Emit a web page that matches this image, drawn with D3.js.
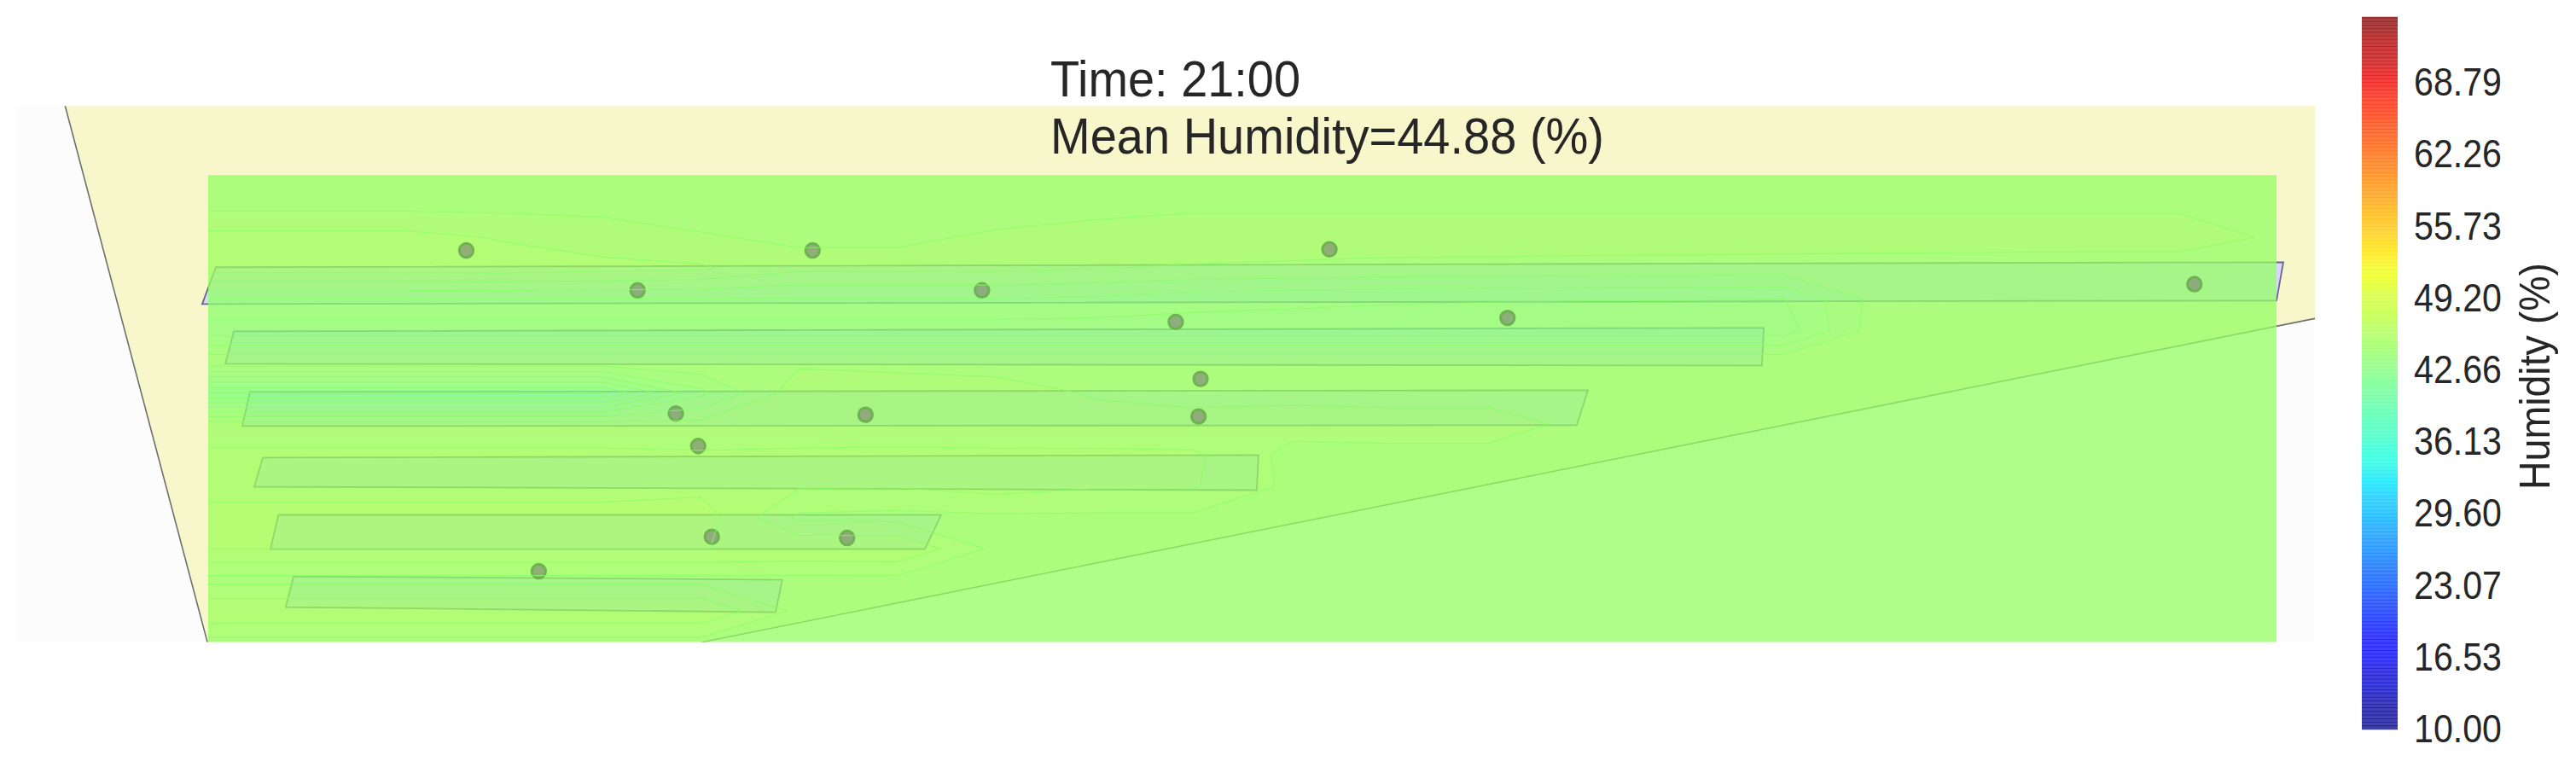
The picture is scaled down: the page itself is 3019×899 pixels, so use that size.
<!DOCTYPE html>
<html>
<head>
<meta charset="utf-8">
<style>
  html, body { margin: 0; padding: 0; background: #fff; }
  text { font-family: "Liberation Sans", sans-serif; fill: #262626; }
</style>
<script src="https://cdn.jsdelivr.net/npm/d3@7"></script>
</head>
<body>
<div id="chart"></div>
<script>
// humidity, 16 rows (top to bottom) of 22 columns
const humidityGrid = [
  [44.46,44.46,44.46,44.46,44.46,44.46,44.46,44.46,44.46,44.46,44.46,44.46,44.46,44.46,44.46,44.46,44.46,44.46,44.46,44.46,44.46,44.46],
  [44.54,44.54,44.54,44.54,44.54,44.54,44.54,44.54,44.54,44.54,44.57,44.57,44.57,44.57,44.57,44.57,44.57,44.57,44.57,44.57,44.57,44.57],
  [45.06,45.06,45.06,44.92,44.78,44.64,44.59,44.59,44.65,44.73,44.81,44.81,44.81,44.81,44.81,44.81,44.81,44.81,44.81,44.81,44.81,44.57],
  [45.11,45.11,45.11,45.13,45.05,45.00,44.69,44.69,44.69,44.63,44.59,44.56,44.52,44.51,44.49,44.48,44.46,44.44,44.43,44.41,44.41,44.36],
  [43.95,43.95,43.95,43.95,43.95,43.95,43.95,43.95,43.95,43.90,43.77,43.72,43.68,43.66,43.65,43.65,43.63,44.46,44.44,44.43,44.41,44.39],
  [43.46,43.46,43.46,43.46,43.46,43.46,43.46,43.46,43.46,43.46,43.46,43.46,43.46,43.46,43.46,43.46,43.46,44.56,44.52,44.52,44.52,44.52],
  [44.56,44.56,44.56,44.56,44.56,44.56,44.56,44.56,44.56,44.56,44.56,44.56,44.56,44.56,44.56,44.56,44.56,44.56,44.54,44.54,44.54,44.54],
  [42.63,42.63,42.63,42.63,42.63,43.87,44.85,44.74,44.69,44.61,44.59,44.54,44.59,44.59,44.57,44.56,44.56,44.56,44.56,44.56,44.56,44.56],
  [44.82,44.82,44.82,44.82,44.82,44.73,44.85,44.79,44.75,44.67,44.66,44.75,44.66,44.66,44.60,44.59,44.59,44.59,44.59,44.59,44.59,44.59],
  [44.99,44.99,44.99,44.99,44.99,44.99,44.98,45.01,45.01,45.03,45.01,44.52,44.60,44.60,44.57,44.56,44.56,44.56,44.56,44.56,44.56,44.56],
  [45.18,45.18,45.18,45.18,45.18,45.18,44.98,44.97,45.08,44.98,44.98,44.55,44.54,44.54,44.54,44.54,44.54,44.54,44.54,44.54,44.54,44.54],
  [45.37,45.37,45.37,45.37,45.37,45.46,44.56,44.52,44.56,44.56,44.56,44.54,44.54,44.54,44.54,44.54,44.54,44.54,44.54,44.54,44.54,44.54],
  [45.28,45.28,45.28,45.28,45.28,45.28,45.24,45.26,44.54,44.52,44.52,44.52,44.52,44.52,44.52,44.52,44.52,44.52,44.52,44.52,44.52,44.52],
  [44.52,44.52,44.52,44.52,44.52,44.52,44.52,44.52,44.52,44.52,44.52,44.52,44.52,44.52,44.52,44.52,44.52,44.52,44.52,44.52,44.52,44.52],
  [45.24,45.24,45.24,45.24,45.24,45.24,44.54,44.52,44.52,44.52,44.52,44.52,44.52,44.52,44.52,44.52,44.52,44.52,44.52,44.52,44.52,44.52],
  [44.52,44.52,44.52,44.52,44.52,44.52,44.52,44.52,44.52,44.52,44.52,44.52,44.52,44.52,44.52,44.52,44.52,44.52,44.52,44.52,44.52,44.52],
];

// sensor positions in plan units (field spans 0-100 on both axes)
const sensorX = [12.48,29.22,54.21,20.76,37.41,96.03,46.78,62.82,47.98,22.61,31.78,47.88,23.69,24.35,30.89,15.98];
const sensorY = [83.86,83.86,84.10,75.32,75.32,76.65,68.56,69.41,56.36,48.94,48.68,48.32,41.99,22.54,22.30,15.17];

const buildingOutline = [[-7.18,119.2],[-0.04,0],[-0.04,-10],[23.89,-10],[23.89,0],[103.39,70.64],[103.39,119.2]];
const rooms = [
  [[0.37,80.26],[100.33,81.35],[100.0,73.13],[-0.29,72.39]],
  [[1.24,66.54],[75.21,67.28],[75.12,59.23],[0.83,59.60]],
  [[2.02,53.56],[66.71,53.93],[66.17,46.44],[1.65,46.25]],
  [[2.64,39.49],[50.78,40.04],[50.70,32.54],[2.23,33.27]],
  [[3.40,27.24],[35.44,27.24],[34.65,19.93],[3.01,19.93]],
  [[4.13,14.08],[27.76,13.35],[27.43,6.40],[3.75,7.50]],
];

const colorbarTicks = [10.00,16.53,23.07,29.60,36.13,42.66,49.20,55.73,62.26,68.79];
const titleLines = ['Time: 21:00', 'Mean Humidity=44.88 (%)'];
const colorbarTitle = 'Humidity (%)';

const vmin = 10;
const vmax = 75;
const nLevels = 200;
const levels = d3.range(nLevels).map(i => vmin + (i * (vmax - vmin)) / (nLevels - 1));

// matplotlib's jet
const jetR = d3.scaleLinear().domain([0, 0.35, 0.66, 0.89, 1]).range([0, 0, 1, 1, 0.5]);
const jetG = d3.scaleLinear().domain([0, 0.125, 0.375, 0.64, 0.91, 1]).range([0, 0, 1, 1, 0, 0]);
const jetB = d3.scaleLinear().domain([0, 0.11, 0.34, 0.65, 1]).range([0.5, 1, 1, 0, 0]);
function jet(v) {
  const t = (v - vmin) / (vmax - vmin);
  return d3.rgb(jetR(t) * 255, jetG(t) * 255, jetB(t) * 255).formatRgb();
}
const levelColor = i => jet(levels[i] + (vmax - vmin) / (nLevels - 1) / 2);

const width = 3019;
const height = 899;
const fieldAlpha = 0.75;

const svg = d3.select('#chart').append('svg')
  .attr('width', width)
  .attr('height', height)
  .style('display', 'block');

// plan scales
const x = d3.scaleLinear().domain([0, 100]).range([244, 2668]);
const y = d3.scaleLinear().domain([0, 100]).range([752.6, 205.2]);

const planLine = d3.line().x(d => x(d[0])).y(d => y(d[1])).curve(d3.curveLinearClosed);

const defs = svg.append('defs');
defs.append('clipPath').attr('id', 'axes-clip').append('rect')
  .attr('x', x(-9.28)).attr('y', y(114.81))
  .attr('width', x(101.86) - x(-9.28)).attr('height', y(0) - y(114.81));
defs.append('clipPath').attr('id', 'field-clip').append('rect')
  .attr('x', x(0)).attr('y', y(100))
  .attr('width', x(100) - x(0)).attr('height', y(0) - y(100));

const axes = svg.append('g').attr('clip-path', 'url(#axes-clip)');

axes.append('rect')
  .attr('x', x(-9.28)).attr('y', y(114.81))
  .attr('width', x(101.86) - x(-9.28)).attr('height', y(0) - y(114.81))
  .attr('fill', '#fcfcfc');

axes.append('path')
  .attr('d', planLine(buildingOutline))
  .attr('fill', '#f8f6cb')
  .attr('stroke', '#6e6e6e')
  .attr('stroke-width', 1.6);

axes.selectAll('path.room').data(rooms).join('path')
  .attr('class', 'room')
  .attr('d', planLine)
  .attr('fill', '#d8d8fa')
  .attr('stroke', '#66668a')
  .attr('stroke-width', 1.8);

// contour field
const nCols = humidityGrid[0].length;
const nRows = humidityGrid.length;
const gx = d3.scaleLinear().domain([0.5, nCols - 0.5]).range(x.range());
const gy = d3.scaleLinear().domain([0.5, nRows - 0.5]).range([y(100), y(0)]);
const gridPath = d3.geoPath(d3.geoTransform({
  point(px, py) { this.stream.point(gx(px), gy(py)); },
}));

const contours = d3.contours()
  .size([nCols, nRows])
  .smooth(true)
  .thresholds(levels)(humidityGrid.flat());

const drawn = contours.filter(c => c.coordinates.length > 0);

const field = svg.append('g')
  .attr('clip-path', 'url(#field-clip)')
  .attr('opacity', fieldAlpha);

field.selectAll('path').data(drawn).join('path')
  .attr('d', gridPath)
  .attr('fill', d => levelColor(levels.indexOf(d.value)));

// sensors
svg.append('g').selectAll('circle').data(sensorX).join('circle')
  .attr('cx', d => x(d))
  .attr('cy', (d, i) => y(sensorY[i]))
  .attr('r', 8.2)
  .attr('fill', '#828278')
  .attr('fill-opacity', 0.64)
  .attr('stroke', '#6bb04e')
  .attr('stroke-opacity', 0.95)
  .attr('stroke-width', 3);

// the thin seams between contour bands
svg.append('g')
  .attr('clip-path', 'url(#field-clip)')
  .selectAll('path').data(drawn).join('path')
  .attr('d', gridPath)
  .attr('fill', 'none')
  .attr('stroke', '#88ff66')
  .attr('stroke-opacity', 0.7)
  .attr('stroke-width', 1.1);

// titles
svg.selectAll('text.title').data(titleLines).join('text')
  .attr('class', 'title')
  .attr('x', 1231)
  .attr('y', (d, i) => (i === 0 ? 113 : 179.5))
  .attr('font-size', 59)
  .attr('textLength', (d, i) => (i === 0 ? 293 : 649))
  .attr('lengthAdjust', 'spacingAndGlyphs')
  .text(d => d);

// colorbar
const cbar = d3.scaleLinear().domain([vmin, 74.75]).range([855, 20]).clamp(true);
const cbarLeft = 2768;
const cbarRight = 2810;

svg.append('g').selectAll('rect').data(levels.slice(0, -1)).join('rect')
  .attr('x', cbarLeft)
  .attr('width', cbarRight - cbarLeft)
  .attr('y', (d, i) => cbar(levels[i + 1]) - 0.3)
  .attr('height', (d, i) => Math.max(0, cbar(d) - cbar(levels[i + 1])) + 0.6)
  .attr('fill', (d, i) => levelColor(i))
  .attr('fill-opacity', fieldAlpha);

const cbarAxis = svg.append('g')
  .attr('transform', `translate(${cbarRight},0)`)
  .call(d3.axisRight(cbar).tickValues(colorbarTicks).tickFormat(d3.format('.2f')).tickSize(0).tickPadding(19));
cbarAxis.select('.domain').remove();
cbarAxis.selectAll('text')
  .attr('font-size', 46)
  .attr('font-family', '"Liberation Sans", sans-serif')
  .attr('fill', '#262626')
  .attr('dy', '0.32em')
  .attr('textLength', 103)
  .attr('lengthAdjust', 'spacingAndGlyphs');

svg.append('text')
  .attr('transform', 'translate(2988,574) rotate(-90)')
  .attr('font-size', 50)
  .attr('textLength', 266)
  .attr('lengthAdjust', 'spacingAndGlyphs')
  .text(colorbarTitle);
</script>
</body>
</html>
